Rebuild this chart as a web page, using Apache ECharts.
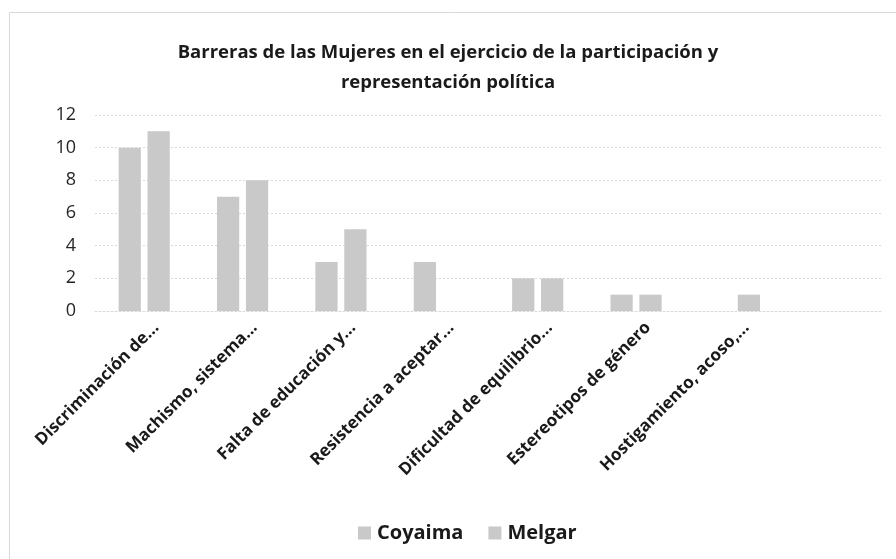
<!DOCTYPE html>
<html>
<head>
<meta charset="utf-8">
<script src="https://cdn.jsdelivr.net/npm/echarts@6/dist/echarts.min.js"></script>
<style>
  html, body { margin: 0; padding: 0; background: #fff; }
  #chart { width: 896px; height: 559px; }
</style>
</head>
<body>
<div id="chart"></div>
<script>
const categories = [
    'Discriminación de...',
    'Machismo, sistema...',
    'Falta de educación y...',
    'Resistencia a aceptar...',
    'Dificultad de equilibrio...',
    'Estereotipos de género',
    'Hostigamiento, acoso,...',
    ''
];
const coyaima = [10, 7, 3, 3, 2, 1, 0, null];
const melgar = [11, 8, 5, 0, 2, 1, 1, null];
const yTicks = { min: 0, max: 12, interval: 2 };

const chart = echarts.init(document.getElementById('chart'));
const font = 'Open Sans';
const barColor = '#c9c9c9';

chart.setOption({
    animation: false,
    title: {
        text: 'Barreras de las Mujeres en el ejercicio de la participación y\nrepresentación política',
        left: 'center',
        top: 33,
        textStyle: {
            fontFamily: font,
            fontSize: 18.5,
            fontWeight: 'bold',
            color: '#1a1a1a',
            lineHeight: 30
        }
    },
    graphic: [{
        type: 'rect',
        shape: { x: 9.5, y: 12.5, width: 900, height: 560 },
        style: { fill: null, stroke: '#d9d9d9', lineWidth: 1 },
        silent: true
    }],
    legend: {
        top: 518,
        left: 353,
        itemWidth: 13,
        itemHeight: 13,
        itemGap: 25,
        icon: 'rect',
        textStyle: { fontFamily: font, fontSize: 20, fontWeight: 'bold', color: '#1a1a1a', padding: [0, 0, 0, 1] },
        data: ['Coyaima', 'Melgar']
    },
    grid: { left: 95, right: 14, top: 115, bottom: 248 },
    xAxis: {
        type: 'category',
        data: categories,
        axisTick: { show: false },
        axisLine: { lineStyle: { color: '#d9d9d9', type: [2, 2] } },
        axisLabel: {
            interval: 0,
            rotate: 45,
            margin: 26,
            padding: [0, -17, 0, 0],
            fontFamily: font,
            fontSize: 17,
            fontWeight: 'bold',
            color: '#1a1a1a'
        }
    },
    yAxis: {
        type: 'value',
        min: yTicks.min,
        max: yTicks.max,
        interval: yTicks.interval,
        axisLine: { show: false },
        axisTick: { show: false },
        axisLabel: { margin: 19, fontFamily: font, fontSize: 18, color: '#262626' },
        splitLine: { lineStyle: { color: '#d9d9d9', type: [2, 2] } }
    },
    series: [
        {
            name: 'Coyaima',
            type: 'bar',
            data: coyaima,
            barGap: '30%',
            barCategoryGap: '48%',
            itemStyle: { color: barColor }
        },
        {
            name: 'Melgar',
            type: 'bar',
            data: melgar,
            itemStyle: { color: barColor }
        }
    ]
});
</script>
</body>
</html>
